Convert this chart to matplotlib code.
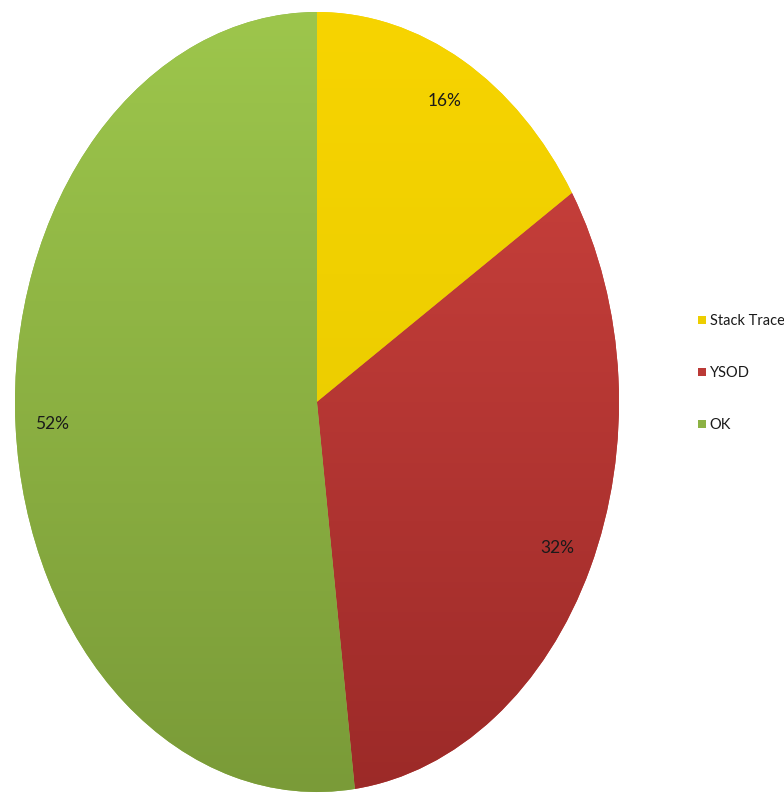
import numpy as np
import matplotlib
matplotlib.use("Agg")
import matplotlib.pyplot as plt
from matplotlib.colors import LinearSegmentedColormap
from matplotlib.lines import Line2D

categories = ["Stack Trace", "YSOD", "OK"]
values = [16, 32, 52]
colors_top = ["#F7D400", "#D0443F", "#9DC64C"]
colors_bottom = ["#E2C800", "#9C2A28", "#7A9B38"]
base_colors = ["#EDCE00", "#BB3A36", "#8CB244"]

FONT = ["Lato", "DejaVu Sans"]

W, H = 784, 794
fig = plt.figure(figsize=(W / 100, H / 100), dpi=100)
ax = fig.add_axes([15 / W, 1 - 792 / H, (619 - 15) / W, (792 - 12) / H])

wedges, texts, autotexts = ax.pie(
    values, colors=base_colors, startangle=90, counterclock=False,
    autopct="%1.0f%%", pctdistance=0.88,
    textprops=dict(fontsize=12.5, family=FONT, color="#1a1a1a"),
    wedgeprops=dict(linewidth=0),
)
ax.set_aspect("auto")

# vertical gradient fill clipped to each wedge
yy = np.linspace(1, 0, 256).reshape(-1, 1)
for w, ct, cb in zip(wedges, colors_top, colors_bottom):
    cmap = LinearSegmentedColormap.from_list("g", [cb, ct])
    im = ax.imshow(yy, cmap=cmap, extent=(-1, 1, -1, 1), aspect="auto",
                   origin="upper", zorder=w.get_zorder() + 0.1, vmin=0, vmax=1)
    im.set_clip_path(w)
for t in autotexts:
    t.set_zorder(10)
ax.set_xlim(-1, 1)
ax.set_ylim(-1, 1)
ax.axis("off")

handles = [Line2D([], [], marker="s", linestyle="none", markersize=6,
                  markerfacecolor=c, markeredgewidth=0) for c in base_colors]
leg = fig.legend(handles, categories, loc="center left",
                 bbox_to_anchor=(690 / W, 1 - 373 / H), frameon=False,
                 prop=dict(family=FONT, size=10.5),
                 handlelength=0.6, handletextpad=0.25, labelspacing=2.62,
                 borderpad=0)
for t in leg.get_texts():
    t.set_color("#1a1a1a")

fig.savefig("out.png", dpi=100, facecolor="white")
